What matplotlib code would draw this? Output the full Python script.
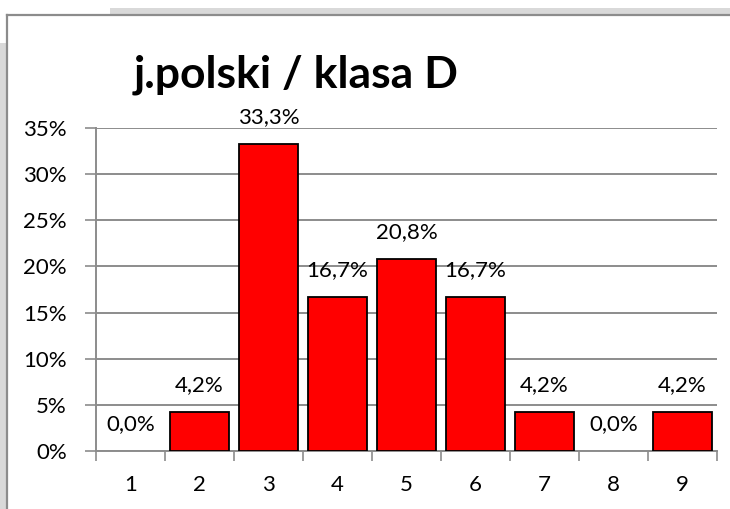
import numpy as np
import matplotlib.pyplot as plt
from matplotlib.patches import Rectangle
from matplotlib.lines import Line2D

# grades and share of students (percent)
grades = ["1", "2", "3", "4", "5", "6", "7", "8", "9"]
shares = [0.0, 4.2, 33.3, 16.7, 20.8, 16.7, 4.2, 0.0, 4.2]
y_ticks = [0, 5, 10, 15, 20, 25, 30, 35]
title = "j.polski / klasa D"

W, H = 730, 509
fig = plt.figure(figsize=(W / 100, H / 100), dpi=100)
plt.rcParams["font.family"] = ["Lato", "DejaVu Sans"]
fs = 16

# gray frame pieces around the chart, like in the screenshot
fig.add_artist(Rectangle((110 / W, 1 - 14 / H), 1, 6 / H, transform=fig.transFigure,
                         color="#d9d9d9", lw=0))
fig.add_artist(Rectangle((0, 0), 6 / W, 1 - 43 / H, transform=fig.transFigure,
                         color="#d9d9d9", lw=0))
fig.add_artist(Line2D([7 / W, 1], [1 - 14.5 / H] * 2, transform=fig.transFigure,
                      color="#8c8c8c", lw=1.6))
fig.add_artist(Line2D([7 / W] * 2, [0, 1 - 14.5 / H], transform=fig.transFigure,
                      color="#8c8c8c", lw=1.6))

left, right = 96, 717
bottom, top = 451, 128
ax = fig.add_axes([left / W, 1 - bottom / H, (right - left) / W, (bottom - top) / H])

x = np.arange(len(grades))
edges = ["black" if v > 0 else "none" for v in shares]
ax.bar(x, shares, width=0.855, color="#ff0000", edgecolor=edges, linewidth=1.3, zorder=3)

for xi, v in zip(x, shares):
    label = f"{v:.1f}%".replace(".", ",")
    ax.annotate(label, (xi, v), xytext=(0, 27), textcoords="offset pixels",
                ha="center", va="center", fontsize=fs, color="black", zorder=4)

ax.set_xlim(-0.5, len(grades) - 0.5)
ax.set_ylim(0, 35)
ax.set_yticks(y_ticks)
ax.set_yticklabels([f"{t}%" for t in y_ticks])
ax.yaxis.grid(True, color="#8c8c8c", linewidth=1.4, zorder=0)
ax.set_axisbelow(True)

# category ticks sit between the bars
ax.set_xticks(np.arange(-0.5, len(grades)), minor=False)
ax.set_xticklabels([])
ax.set_xticks(x, minor=True)
ax.set_xticklabels(grades, minor=True)
ax.tick_params(axis="x", which="major", length=7, width=1.2, color="#8c8c8c", direction="out")
ax.tick_params(axis="x", which="minor", length=0, pad=17, labelsize=fs)
ax.tick_params(axis="y", length=8, width=1.2, color="#8c8c8c", labelsize=fs, pad=13)

for s in ["top", "right"]:
    ax.spines[s].set_visible(False)
for s in ["left", "bottom"]:
    ax.spines[s].set_color("#8c8c8c")
    ax.spines[s].set_linewidth(1.4)

fig.text(296 / W, 1 - 75 / H, title, ha="center", va="center",
         fontsize=32, fontweight="bold")

fig.savefig("out.png", dpi=100)
